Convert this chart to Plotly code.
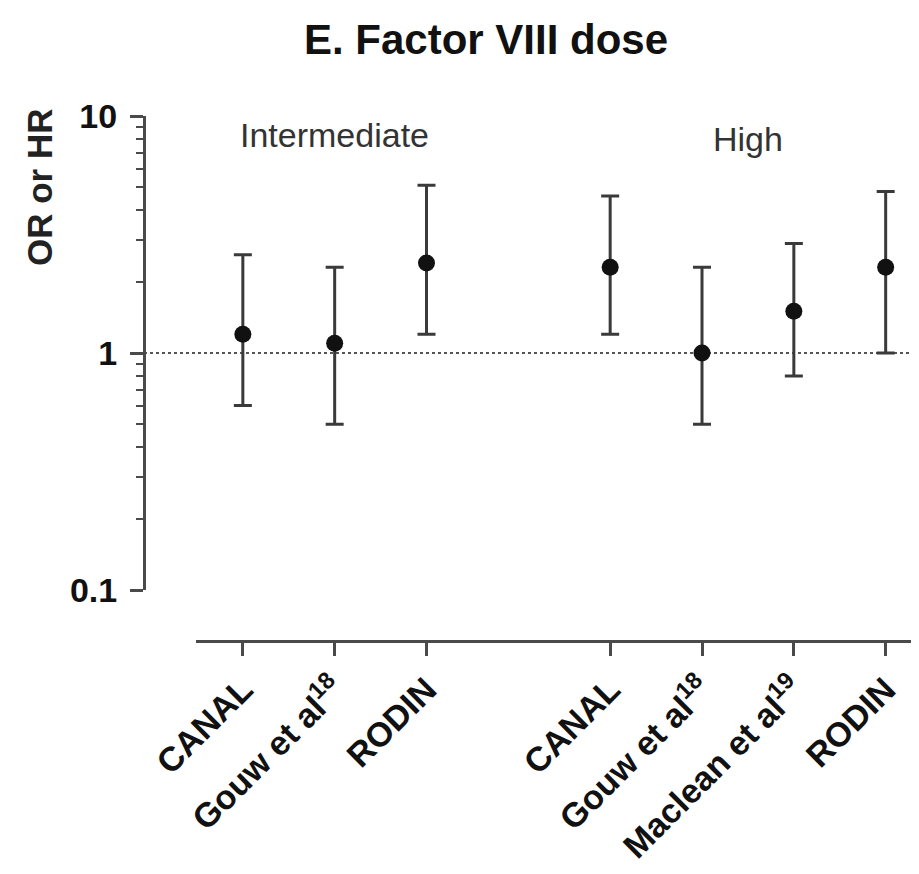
import plotly.graph_objects as go

# ---- data ----
positions = [0, 1, 2, 4, 5, 6, 7]
study_labels = ["CANAL", "Gouw et al<sup>18</sup>", "RODIN",
                "CANAL", "Gouw et al<sup>18</sup>", "Maclean et al<sup>19</sup>", "RODIN"]
estimate = [1.2, 1.1, 2.4, 2.3, 1.0, 1.5, 2.3]
ci_low = [0.6, 0.5, 1.2, 1.2, 0.5, 0.8, 1.0]
ci_high = [2.6, 2.3, 5.1, 4.6, 2.3, 2.9, 4.8]
group_names = ["Intermediate", "High"]
group_centers = [1, 5.5]
y_major = [0.1, 1, 10]
y_major_text = ["0.1", "1", "10"]
y_minor = [0.2, 0.3, 0.4, 0.5, 0.6, 0.7, 0.8, 0.9, 2, 3, 4, 5, 6, 7, 8, 9]

FONT = "Arial, Liberation Sans, Helvetica, sans-serif"
AX = "#4a4a4a"

W, H = 919, 874
L, R, T, B = 136, 0, 108, 241
PW, PH = W - L - R, H - T - B

fig = go.Figure()
fig.add_trace(go.Scatter(
    x=positions, y=estimate, mode="markers",
    marker=dict(color="#111111", size=17),
    error_y=dict(type="data", symmetric=False,
                 array=[h - e for h, e in zip(ci_high, estimate)],
                 arrayminus=[e - l for e, l in zip(estimate, ci_low)],
                 color="#3a3a3a", thickness=3, width=9),
    showlegend=False, cliponaxis=False,
))

# reference line at 1
fig.add_shape(type="line", xref="paper", yref="y", x0=0, x1=1, y0=1, y1=1,
              line=dict(color="#555555", width=2, dash="dot"), layer="below")

# group labels
for name, c, yy in zip(group_names, group_centers, [127, 131]):
    fig.add_annotation(x=c, xref="x", y=1 - (yy - T) / PH, yref="paper",
                       text=name, showarrow=False,
                       font=dict(family=FONT, size=34, color="#333333"),
                       xanchor="center", yanchor="middle")

# y axis title
fig.add_annotation(x=(31 - L) / PW, xref="paper", y=1 - (179 - T) / PH, yref="paper",
                   text="<b>OR or HR</b>", showarrow=False, textangle=-90,
                   xanchor="center", yanchor="middle",
                   font=dict(family=FONT, size=35, color="#222222"))

xdom0 = (188 - L) / PW
ydom0 = (633 - 582) / PH

fig.update_layout(
    width=W, height=H,
    margin=dict(l=L, r=R, t=T, b=B, pad=0),
    paper_bgcolor="white", plot_bgcolor="white",
    title=dict(text="<b>E. Factor VIII dose</b>", x=478 / W, xanchor="center",
               y=1 - 31 / H, yanchor="middle", xref="container", yref="container",
               font=dict(family=FONT, size=42, color="#111111")),
    xaxis=dict(domain=[xdom0, 1], range=[-0.51, 7.45], anchor="free", position=0,
               showgrid=False, zeroline=False, showline=True, linecolor=AX, linewidth=3,
               tickmode="array", tickvals=positions,
               ticktext=["<b>" + s + "</b>" for s in study_labels],
               ticks="outside", ticklen=13, tickwidth=2.5, tickcolor=AX,
               tickangle=-45, tickfont=dict(family=FONT, size=34, color="#111111")),
    yaxis=dict(type="log", domain=[ydom0, 1], range=[-1, 1], anchor="free", position=0,
               showgrid=False, zeroline=False, showline=True, linecolor=AX, linewidth=3,
               tickmode="array", tickvals=y_major,
               ticktext=["<b>" + t + "</b>" for t in y_major_text],
               ticks="outside", ticklen=13, tickwidth=2.5, tickcolor=AX,
               ticklabelstandoff=6,
               tickfont=dict(family=FONT, size=34, color="#111111"),
               minor=dict(tickmode="array", tickvals=y_minor, ticks="outside",
                          ticklen=7, tickwidth=2, tickcolor=AX)),
)

fig.write_html("out.html")
